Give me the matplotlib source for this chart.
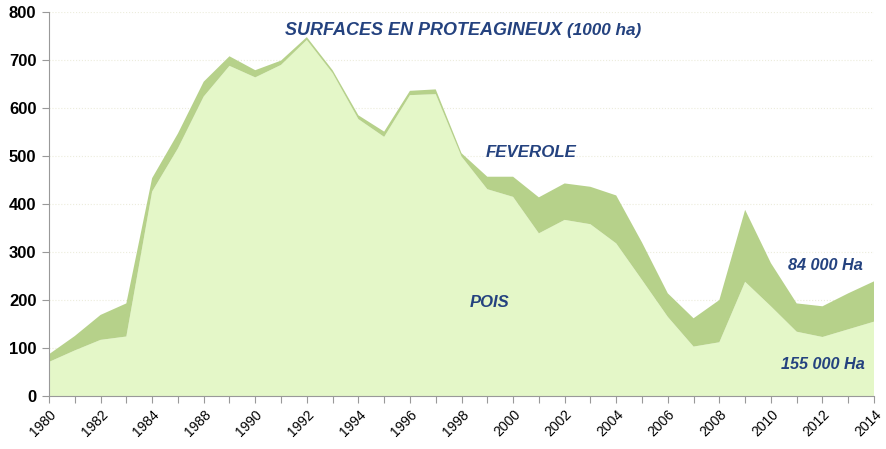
import matplotlib.pyplot as plt
import numpy as np

# === DONNEES (1000 ha) ===
years = ["1980", "1981", "1982", "1983", "1984", "1986", "1988", "1989", "1990",
         "1991", "1992", "1993", "1994", "1995", "1996", "1997", "1998", "1999",
         "2000", "2001", "2002", "2003", "2004", "2005", "2006", "2007", "2008",
         "2009", "2010", "2011", "2012", "2013", "2014"]
pois = [71, 95, 117, 124, 426, 516, 624, 688, 664, 690, 742, 673, 577, 540, 627,
        629, 499, 431, 415, 339, 367, 358, 318, 242, 165, 103, 112, 238, 187, 134,
        123, 139, 155]
feverole = [16, 30, 52, 69, 28, 31, 31, 20, 15, 9, 6, 6, 8, 11, 9, 10, 7, 26, 42,
            75, 76, 78, 100, 78, 49, 59, 88, 150, 90, 59, 64, 75, 84]

TXT = "#24427f"
x = np.arange(len(years))

plt.rcParams["font.family"] = ["Liberation Sans", "DejaVu Sans"]

fig = plt.figure(figsize=(8.86, 4.49), dpi=100)
ax = fig.add_axes([0.0553, 0.118, 0.9312, 0.855])

ax.stackplot(x, pois, feverole, colors=["#e4f7c8", "#b6d18a"], linewidth=0)

ax.set_xlim(0, len(years) - 1)
ax.set_ylim(0, 800)
ax.set_yticks(range(0, 801, 100))
ax.set_yticklabels([str(v) for v in range(0, 801, 100)], fontweight="bold", fontsize=12)
ax.set_xticks(x)
ax.set_xticklabels([y if i % 2 == 0 else "" for i, y in enumerate(years)],
                   rotation=45, ha="right", rotation_mode="anchor", fontsize=10)
ax.tick_params(axis="x", length=5, color="#999999", pad=3)
ax.tick_params(axis="y", length=5, color="#999999", pad=4)

ax.grid(axis="y", color="#ececdc", linestyle=":", linewidth=0.8)
ax.set_axisbelow(True)
for s in ["top", "right"]:
    ax.spines[s].set_visible(False)
for s in ["left", "bottom"]:
    ax.spines[s].set_color("#999999")

# === TEXTES ===
ax.text(9.15, 762, "SURFACES EN PROTEAGINEUX", color=TXT, fontsize=13,
        fontweight="bold", style="italic", va="center", ha="left")
ax.text(20.1, 762, "(1000 ha)", color=TXT, fontsize=12.3,
        fontweight="bold", style="italic", va="center", ha="left")
ax.text(18.7, 508, "FEVEROLE", color=TXT, fontsize=12.2, fontweight="bold",
        style="italic", ha="center", va="center")
ax.text(17.1, 194, "POIS", color=TXT, fontsize=12, fontweight="bold",
        style="italic", ha="center", va="center")
ax.text(30.1, 271, "84 000 Ha", color=TXT, fontsize=11.7, fontweight="bold",
        style="italic", ha="center", va="center")
ax.text(30.0, 65, "155 000 Ha", color=TXT, fontsize=11.7, fontweight="bold",
        style="italic", ha="center", va="center")

plt.savefig("out.png", dpi=100)
